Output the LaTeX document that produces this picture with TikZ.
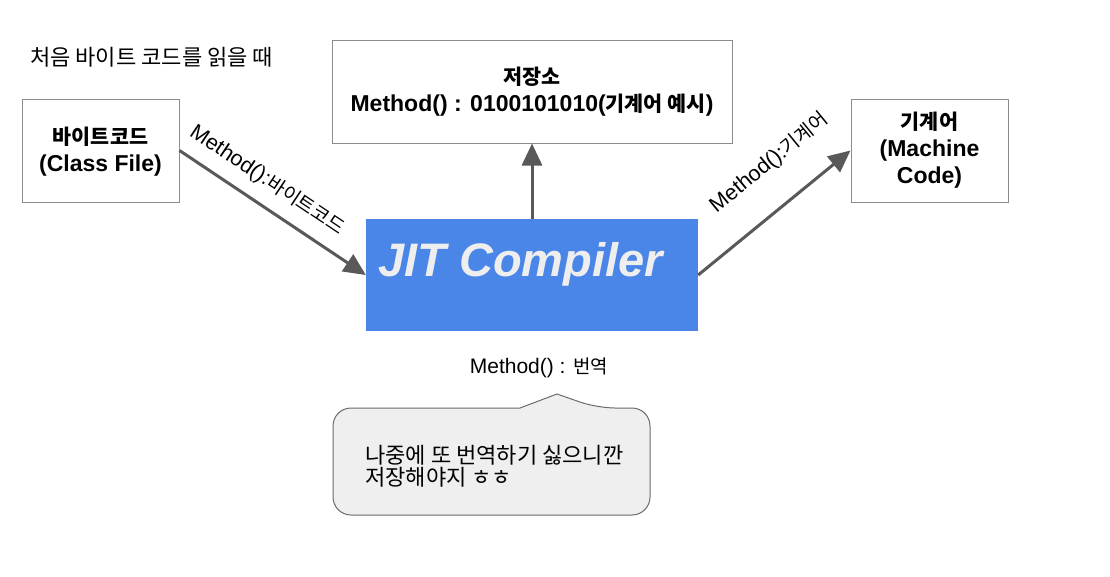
\documentclass[tikz,border=0pt]{standalone}
\usepackage{fontspec}
\setmainfont{Liberation Sans}
\newfontfamily\krfont{Noto Sans CJK KR}[Scale=0.9]
\newfontfamily\krbigfont{Noto Sans CJK KR}[Scale=1.05]
\newcommand\hk[1]{{\krfont #1}}
\newcommand\hkb[1]{{\krbigfont #1}}
\usetikzlibrary{arrows.meta}
\definecolor{arrgray}{HTML}{595959}
\definecolor{boxgray}{HTML}{8C8C8C}
\definecolor{jitblue}{HTML}{4A86E8}
\definecolor{jittext}{HTML}{EEEEEE}
\definecolor{callfill}{HTML}{EFEFEF}
\definecolor{callline}{HTML}{6B6B6B}
\begin{document}
\begin{tikzpicture}[x=1pt,y=-1pt,
  box/.style={draw=boxgray, line width=1pt, fill=white, align=center, inner sep=0pt,
    font=\fontsize{23}{27}\selectfont\bfseries},
  arr/.style={draw=arrgray, line width=3pt, -{Triangle[length=22pt,width=20pt]}},
  lbl/.style={font=\fontsize{21.5}{24}\selectfont, inner sep=0pt, sloped},
  plain/.style={font=\fontsize{21}{24}\selectfont, inner sep=0pt},
]
\useasboundingbox[fill=white] (0,0) rectangle (1110,576);

\node[plain, anchor=west] (title) at (30,57) {\hkb{처음 바이트 코드를 읽을 때}};

\node[box, minimum width=157pt, minimum height=103pt, text depth=3pt] (bc) at (100.5,150.5)
  {\hk{바이트코드}\\(Class File)};
\node[box, minimum width=400pt, minimum height=103pt] (store) at (532,91.5)
  {\hk{저장소}\\Method() : 0100101010(\hk{기계어 예시})};
\node[box, minimum width=157pt, minimum height=103pt] (mc) at (929.5,150.5)
  {\hk{기계어}\\(Machine\\Code)};

\node[fill=jitblue, minimum width=332pt, minimum height=112pt, inner sep=0pt] (jit) at (532,275) {};
\node[anchor=base west, inner sep=0pt, text=jittext,
  font=\fontsize{47}{50}\selectfont\bfseries\itshape] (jittxt) at (378,276) {JIT Compiler};

\draw[arr] (bc.east) -- node[lbl, pos=0.40, above=12pt] {Method():\hk{바이트코드}} (jit.west);
\draw[arr] (jit.east) -- node[lbl, pos=0.64, above=30pt] {Method():\hk{기계어}} (mc.west);
\draw[arr] (jit.north) -- (store.south);

\node[plain] (trans) at (539,368) {Method() : \hk{번역}};

\draw[draw=callline, fill=callfill, line width=1pt, rounded corners=18pt]
  (520,408) -- (333,408) -- (333,515) -- (650,515) -- (650,408) -- (597,408)
  [sharp corners] -- (557,394) -- cycle;
\node[plain, anchor=west, align=left, font=\fontsize{21}{22}\selectfont] (note) at (365,466)
  {\hkb{나중에 또 번역하기 싫으니깐}\\\hkb{저장해야지 ㅎㅎ}};
\end{tikzpicture}
\end{document}
